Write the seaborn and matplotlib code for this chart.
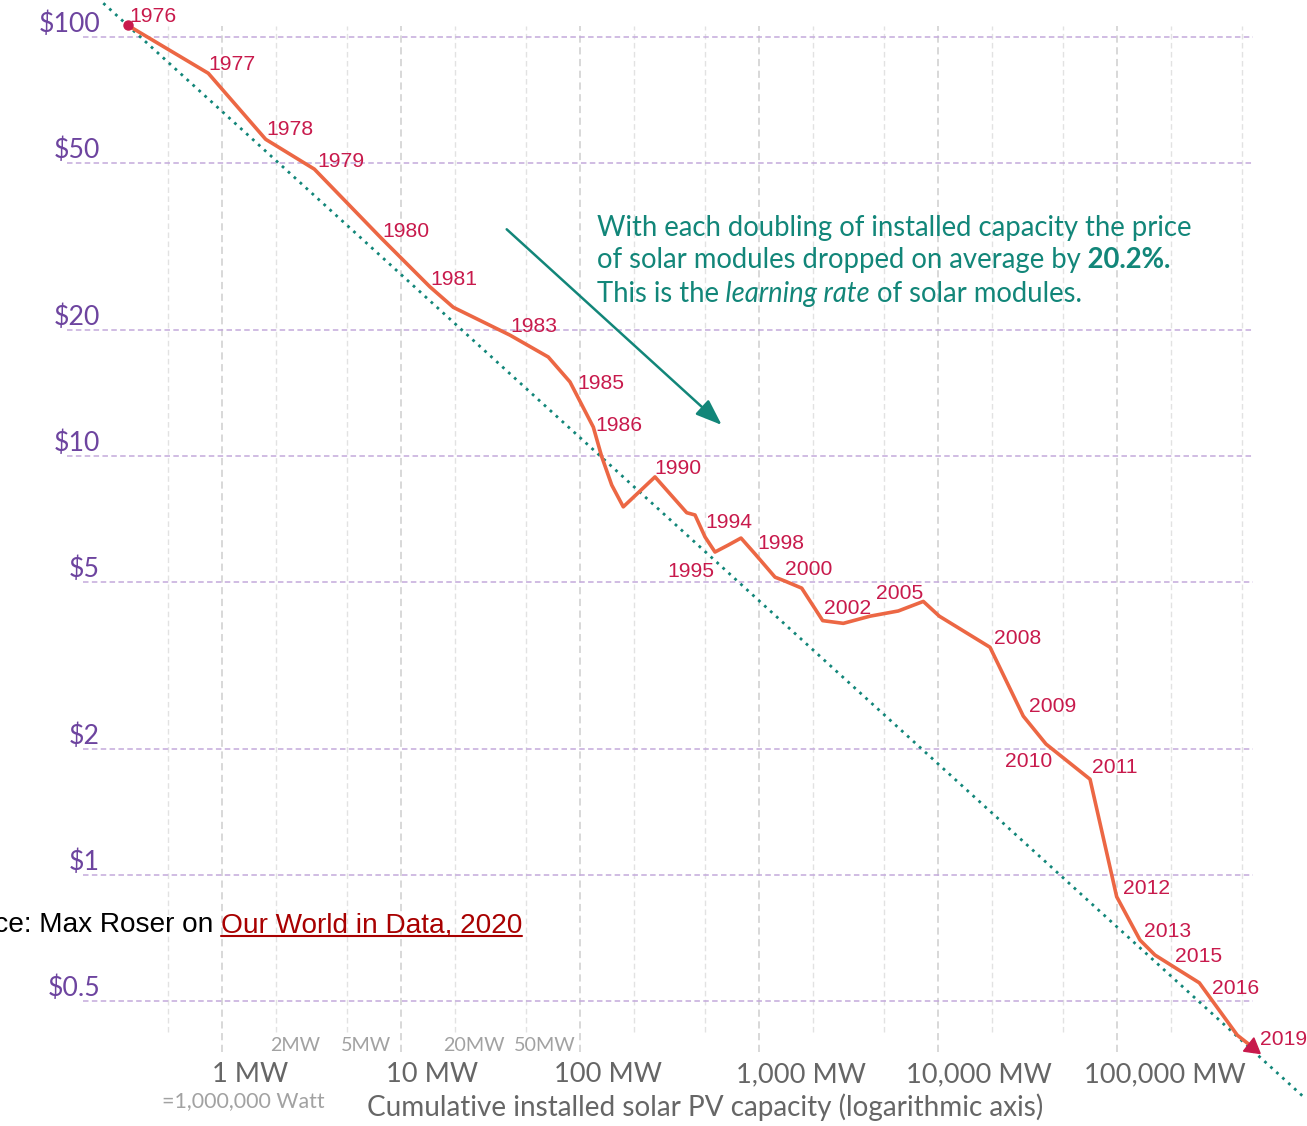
import matplotlib
matplotlib.use("Agg")
import matplotlib.pyplot as plt
from matplotlib.lines import Line2D
from matplotlib.transforms import IdentityTransform
import pandas as pd
import seaborn as sns

# ---- data -------------------------------------------------------------
years = [1976, 1977, 1978, 1979, 1980, 1981, 1982, 1983, 1984, 1985, 1986,
         1987, 1988, 1989, 1990, 1992, 1993, 1994, 1995, 1996, 1997, 1998,
         1999, 2000, 2001, 2002, 2003, 2004, 2005, 2006, 2007, 2008, 2009,
         2010, 2011, 2012, 2013, 2014, 2015, 2016, 2018, 2019]
capacity_mw = [0.297, 0.838, 1.754, 3.28, 7.73, 14.5, 19.6, 40.6, 66.5, 87.9,
               118.7, 132.2, 150.4, 174.5, 262.4, 394.7, 439.0, 499.4, 567.8,
               673.7, 793.3, 949.9, 1229, 1397.5, 1732, 2269, 2957, 4170,
               6001, 8277, 10170, 19520, 29960, 40130, 70680, 99600, 134500,
               163000, 216400, 288400, 469900, 565600]
price_usd = [106.5, 81.8, 56.9, 48.3, 33.1, 25.3, 22.6, 19.4, 17.2, 15.0,
             11.7, 9.95, 8.51, 7.55, 8.90, 7.31, 7.22, 6.40, 5.89, 6.12, 6.36,
             5.83, 5.13, 5.02, 4.83, 4.04, 3.98, 4.14, 4.26, 4.49, 4.14, 3.49,
             2.39, 2.05, 1.69, 0.886, 0.698, 0.643, 0.596, 0.552, 0.414, 0.389]

# learning-curve trend line (end points)
trend_mw = [0.2173, 1.0985e6]
trend_price = [120.2, 0.2953]

price_ticks = [100, 50, 20, 10, 5, 2, 1, 0.5]
price_tick_labels = ["$100", "$50", "$20", "$10", "$5", "$2", "$1", "$0.5"]
major_mw = [1, 10, 100, 1000, 10000, 100000]
major_mw_labels = ["1 MW", "10 MW", "100 MW", "1,000 MW", "10,000 MW",
                   "100,000 MW"]
minor_mw = [0.5, 2, 5, 20, 50, 200, 500, 2000, 5000, 20000, 50000, 200000,
            500000]
minor_mw_labels = {2: "2MW", 5: "5MW", 20: "20MW", 50: "50MW"}

# year label placement: (dx px, dy px, horizontal alignment)
year_label_style = {
    1976: (2, 3, "left"), 1977: (0, 3, "left"), 1978: (1, 4, "left"),
    1979: (3, 2, "left"), 1980: (1, 1, "left"), 1981: (0, 2, "left"),
    1983: (0, 3, "left"), 1985: (7, -7, "left"), 1986: (2, -4, "left"),
    1990: (-1, 3, "left"), 1994: (0, 9, "left"), 1995: (-1, -25, "right"),
    1998: (2, 5, "left"), 2000: (0, 6, "left"), 2002: (1, 7, "left"),
    2005: (1, 12, "center"), 2008: (4, 3, "left"), 2009: (6, 4, "left"),
    2010: (6, -23, "right"), 2011: (2, 6, "left"), 2012: (6, 3, "left"),
    2013: (4, 3, "left"), 2015: (-2, 7, "left"), 2016: (13, -11, "left"),
    2019: (8, 2, "left"),
}

# ---- styling ----------------------------------------------------------
W, H, DPI = 1307, 1126, 100
ORANGE = "#ec6744"
CRIMSON = "#c81a4c"
TEAL = "#128679"
PURPLE = "#6d449f"
HGRID = "#c3aadb"
GRAY = "#666666"
LIGHTGRAY = "#a2a2a2"

sns.set_theme(style="white")
plt.rcParams["font.family"] = ["Liberation Sans", "DejaVu Sans"]

fig = plt.figure(figsize=(W / DPI, H / DPI), dpi=DPI)
ax = fig.add_axes([0, 0, 1, 1])
ax.set_xscale("log")
ax.set_yscale("log")
# 179 px per decade of capacity, 419 px per decade of price
ax.set_xlim(10 ** (-222 / 179), 10 ** ((W - 222) / 179))
ax.set_ylim(10 ** (2 - (H - 36.7) / 419), 10 ** (2 + 36.7 / 419))
ax.axis("off")


def fx(px):
    return px / W


def fy(py):
    return 1 - py / H


xt = ax.get_xaxis_transform()
yt = ax.get_yaxis_transform()

# vertical grid
ax.vlines(minor_mw, fy(1032), fy(26), transform=xt, colors="#e2e2e2",
          lw=1.0, linestyles=(0, (4, 2.5)), zorder=0)
ax.vlines(major_mw, fy(1052), fy(26), transform=xt, colors="#d6d6d6",
          lw=1.3, linestyles=(0, (4, 2.5)), zorder=0)

# horizontal grid + price labels
hline_start = [83, 67, 67, 67, 83, 83, 83, 83]
ax.hlines(price_ticks, [fx(s) for s in hline_start], fx(1253), transform=yt,
          colors=HGRID, lw=1.1, linestyles=(0, (3.6, 2.2)), zorder=0)
for p, lab in zip(price_ticks, price_tick_labels):
    ax.annotate(lab, xy=(fx(100), p), xycoords=yt, xytext=(0, 5),
                textcoords="offset pixels", ha="right", va="baseline",
                family="Lato", size=19.2, color=PURPLE)

# capacity labels
major_shift = [28, 31, 28, 42, 41, 48]
for mw, lab, dx in zip(major_mw, major_mw_labels, major_shift):
    ax.annotate(lab, xy=(mw, fy(1082)), xycoords=xt, xytext=(dx, 0),
                textcoords="offset pixels", ha="center", va="baseline",
                family="Lato", size=19.6, color=GRAY)
for mw, lab in minor_mw_labels.items():
    ax.annotate(lab, xy=(mw, fy(1051)), xycoords=xt, xytext=(19, 0),
                textcoords="offset pixels", ha="center", va="baseline",
                family="Lato", size=14.2, color=LIGHTGRAY)
ax.annotate("=1,000,000 Watt", xy=(1, fy(1107)), xycoords=xt,
            xytext=(21, 0), textcoords="offset pixels", ha="center",
            va="baseline", family="Lato", size=15.4, color=LIGHTGRAY)
fig.text(fx(705), fy(1116), "Cumulative installed solar PV capacity "
         "(logarithmic axis)", ha="center", va="baseline", family="Lato",
         size=20.1, color=GRAY)

# trend line and price series
ax.plot(trend_mw, trend_price, color=TEAL, lw=2.0, ls=(0, (1, 1.9)),
        zorder=2)
df = pd.DataFrame({"year": years, "capacity_mw": capacity_mw,
                   "price_usd": price_usd})
sns.lineplot(data=df, x="capacity_mw", y="price_usd", ax=ax, color=ORANGE,
             lw=2.6, estimator=None, sort=False, zorder=3)
ax.plot(capacity_mw[0], price_usd[0], "o", ms=6.5, color=CRIMSON, zorder=4)
ax.plot(capacity_mw[-1], price_usd[-1], marker=(3, 0, -8), ms=14,
        color=CRIMSON, lw=0, zorder=4)

for yr, (dx, dy, ha) in year_label_style.items():
    i = years.index(yr)
    ax.annotate(str(yr), xy=(capacity_mw[i], price_usd[i]), xytext=(dx, dy),
                textcoords="offset pixels", ha=ha, va="baseline",
                size=15.2, color=CRIMSON, zorder=5)

# learning-rate annotation
ax.annotate("", xy=(619, 11.84), xytext=(38.95, 34.7),
            arrowprops=dict(arrowstyle="-|>,head_length=0.8,head_width=0.3",
                            color=TEAL, lw=1.8, mutation_scale=20,
                            shrinkA=0, shrinkB=0))

note_lines = [
    [("With each doubling of installed capacity the price", {})],
    [("of solar modules dropped on average by", {}),
     (" 20.2%.", {"weight": "bold"})],
    [("This is the", {}), (" learning rate", {"style": "italic"}),
     (" of solar modules.", {})],
]
note_baselines = [236, 268.3, 301.7]
for parts, base in zip(note_lines, note_baselines):
    prev = None
    for txt, kw in parts:
        if prev is None:
            prev = fig.text(fx(597), fy(base), txt, ha="left", va="baseline",
                            family="Lato", size=19.8, color=TEAL, **kw)
        else:
            prev = ax.annotate(txt, xy=(1, 0), xycoords=prev, ha="left",
                               va="bottom", family="Lato", size=19.8,
                               color=TEAL, **kw)

# source line
fig.text(fx(213), fy(932), "Source: Max Roser on", ha="right",
         va="baseline", size=20.2, color="black")
link = fig.text(fx(221), fy(932), "Our World in Data, 2020", ha="left",
                va="baseline", size=20.2, color="#a80000")
fig.canvas.draw()
bb = link.get_window_extent()
fig.add_artist(Line2D([bb.x0, bb.x1], [H - 936, H - 936],
                      transform=IdentityTransform(), lw=1.5,
                      color="#a80000"))

fig.savefig("out.png", dpi=DPI)
